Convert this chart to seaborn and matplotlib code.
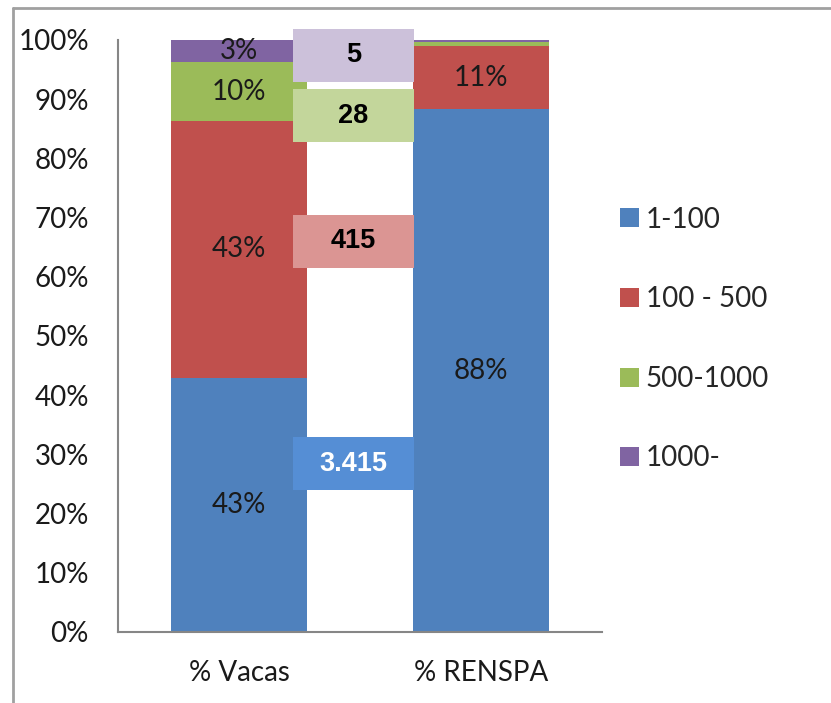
import matplotlib
matplotlib.use("Agg")
import numpy as np
import pandas as pd
import matplotlib.pyplot as plt
import seaborn as sns
from matplotlib.patches import Patch, Rectangle
from matplotlib.lines import Line2D

# ---- data ----
categories = ["% Vacas", "% RENSPA"]
series = ["1-100", "100 - 500", "500-1000", "1000-"]
share_1_100 = [42.9, 88.3]
share_100_500 = [43.5, 10.7]
share_500_1000 = [9.8, 0.7]
share_1000 = [3.8, 0.3]
labels_1_100 = ["43%", "88%"]
labels_100_500 = ["43%", "11%"]
labels_500_1000 = ["10%", ""]
labels_1000 = ["3%", ""]
count_labels = ["3.415", "415", "28", "5"]
yticks = [0, 10, 20, 30, 40, 50, 60, 70, 80, 90, 100]

colors = ["#4F81BD", "#C0504D", "#9BBB59", "#8064A2"]
box_colors = ["#558ED5", "#DB9593", "#C3D69B", "#CCC1DA"]
box_text_colors = ["white", "black", "black", "black"]
box_centers = [0.2845, 0.660, 0.872, 0.974]  # axes fraction (layout)

sns.set_style("white")
plt.rcParams["font.family"] = ["Lato", "DejaVu Sans"]

shares = [share_1_100, share_100_500, share_500_1000, share_1000]
labels = [labels_1_100, labels_100_500, labels_500_1000, labels_1000]
df = pd.DataFrame({s: v for s, v in zip(series, shares)}, index=categories) / 100.0
cum = df.cumsum(axis=1)

fig = plt.figure(figsize=(8.31, 7.03), dpi=100)
ax = fig.add_axes([118 / 831, 71 / 703, 484 / 831, 592 / 703])

# draw stacked bars from top layer down
for i in reversed(range(len(series))):
    sns.barplot(x=categories, y=cum[series[i]].values, color=colors[i],
                width=0.565, saturation=1, linewidth=0, ax=ax, errorbar=None)

# in-bar labels
for i, s in enumerate(series):
    for j, c in enumerate(categories):
        lab = labels[i][j]
        if lab:
            yc = cum[s].iloc[j] - df[s].iloc[j] / 2
            ax.text(j, yc, lab, ha="center", va="center", fontsize=20,
                    color="#1a1a1a")

ax.set_xlim(-0.5, 1.5)
ax.set_ylim(0, 1)
ax.set_yticks([t / 100 for t in yticks])
ax.set_yticklabels([f"{t}%" for t in yticks])
ax.tick_params(axis="both", length=0, labelsize=20, colors="#1a1a1a")
ax.tick_params(axis="y", pad=21)
ax.tick_params(axis="x", pad=20)
for sp in ["top", "right"]:
    ax.spines[sp].set_visible(False)
for sp in ["left", "bottom"]:
    ax.spines[sp].set_color("#868686")
    ax.spines[sp].set_linewidth(1.5)
ax.set_xlabel("")
ax.set_ylabel("")

# count boxes
bx0, bx1 = 0.222, 0.723
bh = 0.0895
trans = ax.get_xaxis_transform()
for k in range(len(count_labels)):
    yc = box_centers[k]
    ax.add_patch(Rectangle((bx0, yc - bh / 2), bx1 - bx0, bh, transform=trans,
                           facecolor=box_colors[k], edgecolor="none",
                           clip_on=False, zorder=5))
    ax.text((bx0 + bx1) / 2, yc, count_labels[k], transform=trans,
            ha="center", va="center", fontsize=19.5, fontweight="bold",
            family=["Liberation Sans", "DejaVu Sans"],
            color=box_text_colors[k], zorder=6)

# legend
handles = [Patch(facecolor=c, edgecolor="none") for c in colors]
fig.legend(handles, series, loc="center left",
           bbox_to_anchor=(620 / 831, 1 - 339 / 703), frameon=False,
           fontsize=20, handlelength=0.68, handleheight=0.68,
           handletextpad=0.25, labelspacing=1.93, borderpad=0,
           borderaxespad=0)

# outer frame lines
fig.add_artist(Line2D([13 / 831, 13 / 831], [0, 1 - 8 / 703],
                      color="#A0A0A0", lw=2))
fig.add_artist(Line2D([13 / 831, 1], [1 - 8 / 703, 1 - 8 / 703],
                      color="#A0A0A0", lw=2))

fig.savefig("out.png", dpi=100)
